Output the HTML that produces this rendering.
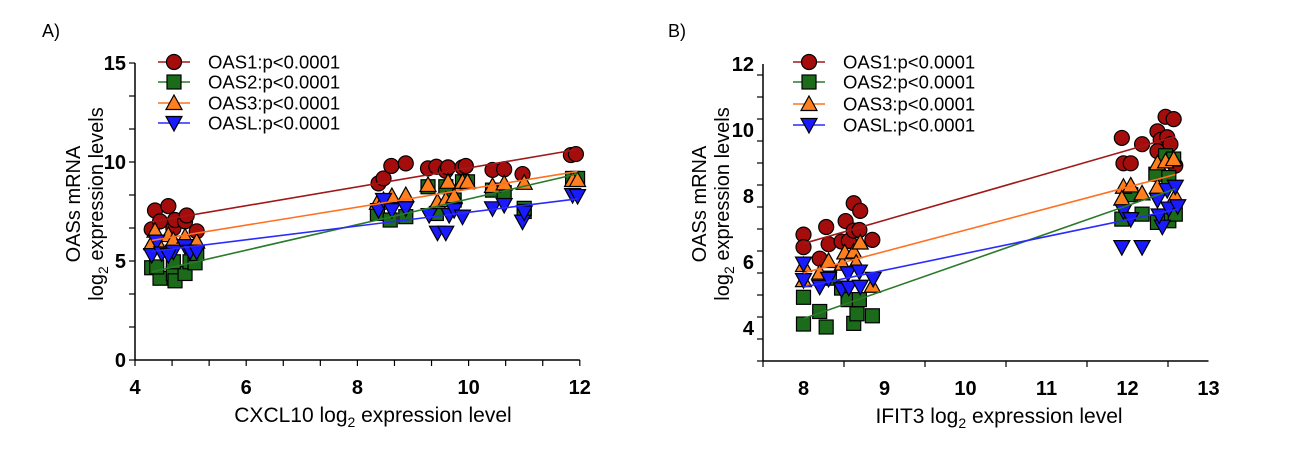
<!DOCTYPE html>
<html><head><meta charset="utf-8"><style>
html,body{margin:0;padding:0;background:#fff;}
svg{display:block;font-family:"Liberation Sans",Arial,sans-serif;}
</style></head><body>
<svg id="chart" width="1294" height="474" viewBox="0 0 1294 474" xmlns="http://www.w3.org/2000/svg">
<text x="42" y="37" font-size="18">A)</text>
<text x="668" y="37" font-size="18">B)</text>
<g id="panelA"></g>
<g id="panelB"></g>
</svg>
<script>
// ---- Panel A data (x = CXCL10, y = OAS expression) ----
const aOas1X=[4.30,4.36,4.45,4.60,4.69,4.72,4.90,4.93,5.11,8.38,8.47,8.61,8.87,9.27,9.42,9.59,9.63,9.89,9.95,10.43,10.64,10.97,11.84,11.93];
const aOas1Y=[6.6,7.55,7.0,7.77,6.65,7.07,7.0,7.3,6.5,8.92,9.17,9.8,9.93,9.68,9.76,9.56,9.73,9.73,9.8,9.6,9.63,9.39,10.35,10.4];
const aOas2X=[4.30,4.45,4.39,4.69,4.72,4.90,4.69,4.99,5.08,5.11,8.36,8.59,8.87,9.27,9.42,9.59,9.74,9.89,9.98,10.43,10.64,11.0,11.0,11.87,11.96];
const aOas2Y=[4.66,4.13,4.7,4.37,4.0,4.37,4.96,4.96,4.91,5.38,7.4,7.07,7.24,8.75,7.4,8.75,8.08,9.0,9.0,8.58,8.45,7.66,7.5,9.17,9.17];
const aOas3X=[4.30,4.36,4.60,4.69,4.90,5.11,4.45,8.36,8.47,8.62,8.87,9.27,9.44,9.59,9.63,9.74,9.89,9.98,10.43,10.64,11.0,11.87,11.96];
const aOas3Y=[5.9,6.53,6.31,6.06,6.23,5.98,5.72,7.94,8.08,8.28,8.33,8.84,7.99,8.08,9.0,8.28,9.0,9.0,8.79,8.92,8.95,9.09,9.09];
const aOaslX=[4.30,4.39,4.48,4.69,4.90,4.99,5.11,4.60,8.38,8.47,8.62,8.87,9.29,9.44,9.59,9.65,9.74,9.89,10.43,10.64,10.97,11.0,11.87,11.96];
const aOaslY=[5.3,5.98,5.38,5.47,5.75,5.47,5.47,5.3,7.57,8.08,7.57,7.66,7.32,6.43,6.43,7.32,7.57,7.24,7.66,7.83,6.99,7.45,8.33,8.28];
const aXTicks=[4,6,8,10,12];
const aYTicks=[0,5,10,15];
// ---- Panel B data (x = IFIT3) ----
const bOas1X=[8.0,8.0,8.2,8.28,8.31,8.47,8.52,8.56,8.62,8.70,8.62,8.69,8.85,11.93,11.95,12.04,12.18,12.37,12.47,12.57,12.41,12.49,12.37,12.53,12.59];
const bOas1Y=[6.83,6.45,6.1,7.06,6.54,6.62,7.24,6.64,7.78,7.55,6.95,6.97,6.67,9.76,8.99,8.99,9.57,9.96,10.4,10.33,9.7,9.78,9.36,9.57,8.92];
const bOas2X=[8.0,8.0,8.2,8.28,8.47,8.55,8.62,8.66,8.69,8.85,8.32,11.93,12.04,12.18,12.35,12.47,12.51,12.59,12.57,12.51,12.37];
const bOas2Y=[4.12,4.93,4.5,4.03,5.21,4.86,4.14,4.43,4.86,4.37,5.51,7.3,8.04,7.45,8.66,9.22,7.25,7.45,9.12,8.56,7.2];
const bOas3X=[8.0,8.0,8.2,8.31,8.48,8.51,8.62,8.7,8.65,8.85,11.95,11.93,12.04,12.18,12.37,12.37,12.47,12.57,12.59];
const bOas3Y=[5.91,5.45,5.68,6.03,5.95,6.29,6.32,6.59,5.98,5.28,8.28,7.92,8.32,8.08,8.28,8.99,9.05,9.12,8.0];
const bOaslX=[8.0,8.0,8.2,8.31,8.47,8.55,8.56,8.69,8.7,8.86,11.93,11.95,12.04,12.18,12.37,12.43,12.39,12.49,12.51,12.59,12.62];
const bOaslY=[5.95,5.45,5.25,5.49,5.17,5.66,5.22,5.71,5.25,5.49,6.45,7.54,7.3,6.45,7.88,7.07,7.41,8.18,7.62,8.28,7.69];
const bXTicks=[8,9,10,11,12,13];
const bYTicks=[4,6,8,10,12];
const seriesNames=["OAS1:p<0.0001","OAS2:p<0.0001","OAS3:p<0.0001","OASL:p<0.0001"];

const NS="http://www.w3.org/2000/svg";
const styles=[
 {fill:"#a50d0d",line:"#a01818",shape:"circle",key:"oas1"},
 {fill:"#1b6b1b",line:"#2a7a2a",shape:"square",key:"oas2"},
 {fill:"#ff7f1e",line:"#ff7020",shape:"tri",key:"oas3"},
 {fill:"#1a1aff",line:"#2a2aff",shape:"tridown",key:"oasl"}];
function mk(tag,attrs,parent){const e=document.createElementNS(NS,tag);for(const k in attrs)e.setAttribute(k,attrs[k]);parent.appendChild(e);return e;}
function marker(g,shape,cx,cy,fill){
  let e;
  if(shape==="circle")e=mk("circle",{cx:cx,cy:cy,r:7.5},g);
  else if(shape==="square")e=mk("rect",{x:cx-7,y:cy-7,width:14,height:14},g);
  else if(shape==="tri")e=mk("polygon",{points:`${cx},${cy-8} ${cx+8},${cy+6.5} ${cx-8},${cy+6.5}`},g);
  else e=mk("polygon",{points:`${cx},${cy+8} ${cx+8},${cy-6.5} ${cx-8},${cy-6.5}`},g);
  e.setAttribute("fill",fill);e.setAttribute("stroke","#000");e.setAttribute("stroke-width","1.2");
  return e;
}
function fit(xs,ys){const n=xs.length;let mx=0,my=0;for(let i=0;i<n;i++){mx+=xs[i];my+=ys[i];}mx/=n;my/=n;let sxy=0,sxx=0;for(let i=0;i<n;i++){sxy+=(xs[i]-mx)*(ys[i]-my);sxx+=(xs[i]-mx)**2;}const b=sxy/sxx;return [my-b*mx,b];}
function panel(g,cfg){
  const sx=v=>cfg.x0+(v-cfg.xmin)*cfg.xs, sy=v=>cfg.y0-(v-cfg.ymin)*cfg.ys;
  const ax=mk("g",{},g);
  
  
  const xL=sx(cfg.xmin), xR=sx(cfg.xmax), yT=sy(cfg.ymax), yB=sy(cfg.ymin);
  mk("line",{x1:xL,y1:yB,x2:xL,y2:yT,stroke:"#000","stroke-width":1.5},ax);
  mk("line",{x1:xL,y1:yB,x2:xR,y2:yB,stroke:"#000","stroke-width":1.5},ax);
  for(let v=cfg.ymin;v<=cfg.ymax+1e-6;v+=cfg.yMinor){const y=sy(v);mk("line",{x1:xL-6,y1:y,x2:xL,y2:y,stroke:"#000","stroke-width":1.2},ax);}
  for(let v=cfg.xmin;v<=cfg.xmax+1e-6;v+=cfg.xMinor){const x=sx(v);mk("line",{x1:x,y1:yB,x2:x,y2:yB+6,stroke:"#000","stroke-width":1.2},ax);}
  cfg.yTicks.forEach(v=>{const t=mk("text",{x:xL-9,y:sy(v)+7,"text-anchor":"end","font-size":20,"font-weight":"bold"},ax);t.textContent=v;
    
    });
  cfg.xTicks.forEach(v=>{const t=mk("text",{x:sx(v),y:yB+34,"text-anchor":"middle","font-size":20,"font-weight":"bold"},ax);t.textContent=v;
    
    });
  const xt=mk("text",{x:cfg.xTitleX,y:yB+62,"text-anchor":"middle","font-size":21},ax);
  xt.innerHTML=cfg.xTitle+' log<tspan font-size="14" dy="5">2</tspan><tspan dy="-5"> expression level</tspan>';
  
  
  const yt=mk("text",{transform:`translate(${cfg.yTitleX},204) rotate(-90)`,"text-anchor":"middle","font-size":20},ax);
  yt.innerHTML='<tspan x="0" y="0">OASs mRNA</tspan><tspan x="0" y="23">log<tspan font-size="14" dy="5">2</tspan><tspan dy="-5"> expression levels</tspan></tspan>';
  
  
  cfg.series.forEach((s,i)=>{
    const st=styles[i];
    const sg=mk("g",{},g);
    
    
    s[0].forEach((xv,j)=>{const m=marker(sg,st.shape,sx(xv),sy(s[1][j]),st.fill);
      
      });
  });
  cfg.series.forEach((s,i)=>{
    const st=styles[i];const f=fit(s[0],s[1]);
    const x1=Math.min(...s[0]),x2=Math.max(...s[0]);
    const l=mk("line",{x1:sx(x1),y1:sy(f[0]+f[1]*x1),x2:sx(x2),y2:sy(f[0]+f[1]*x2),stroke:st.line,"stroke-width":1.6},g);
    
    
  });
  const lg=mk("g",{},g);
  
  
  cfg.legendY.forEach((y,i)=>{
    const st=styles[i];
    const e=mk("g",{},lg);
    
    
    mk("line",{x1:cfg.legX,y1:y,x2:cfg.legX+32,y2:y,stroke:st.line,"stroke-width":1.6},e);
    marker(e,st.shape,cfg.legX+16,y,st.fill);
    const t=mk("text",{x:cfg.legX+50,y:y+6.5,"font-size":18.5},e);t.textContent=seriesNames[i];
  });
}
panel(document.getElementById("panelA"),{x0:135,xmin:4,xmax:12,xs:55.6,y0:360,ymin:0,ymax:15,ys:19.8,
 xMinor:2/3,yMinor:5/3,xTicks:aXTicks,yTicks:aYTicks,xTitle:"CXCL10",xTitleX:373,yTitleX:80,
 legX:158,legendY:[62,82,103,123],
 series:[[aOas1X,aOas1Y],[aOas2X,aOas2Y],[aOas3X,aOas3Y],[aOaslX,aOaslY]]});
panel(document.getElementById("panelB"),{x0:763,xmin:7.5,xmax:13,xs:81,y0:361,ymin:3,ymax:12,ys:33,
 xMinor:1,yMinor:2/3,xTicks:bXTicks,yTicks:bYTicks,xTitle:"IFIT3",xTitleX:999,yTitleX:706,
 legX:793,legendY:[62,82,104,125],
 series:[[bOas1X,bOas1Y],[bOas2X,bOas2Y],[bOas3X,bOas3Y],[bOaslX,bOaslY]]});
</script>
</body></html>
